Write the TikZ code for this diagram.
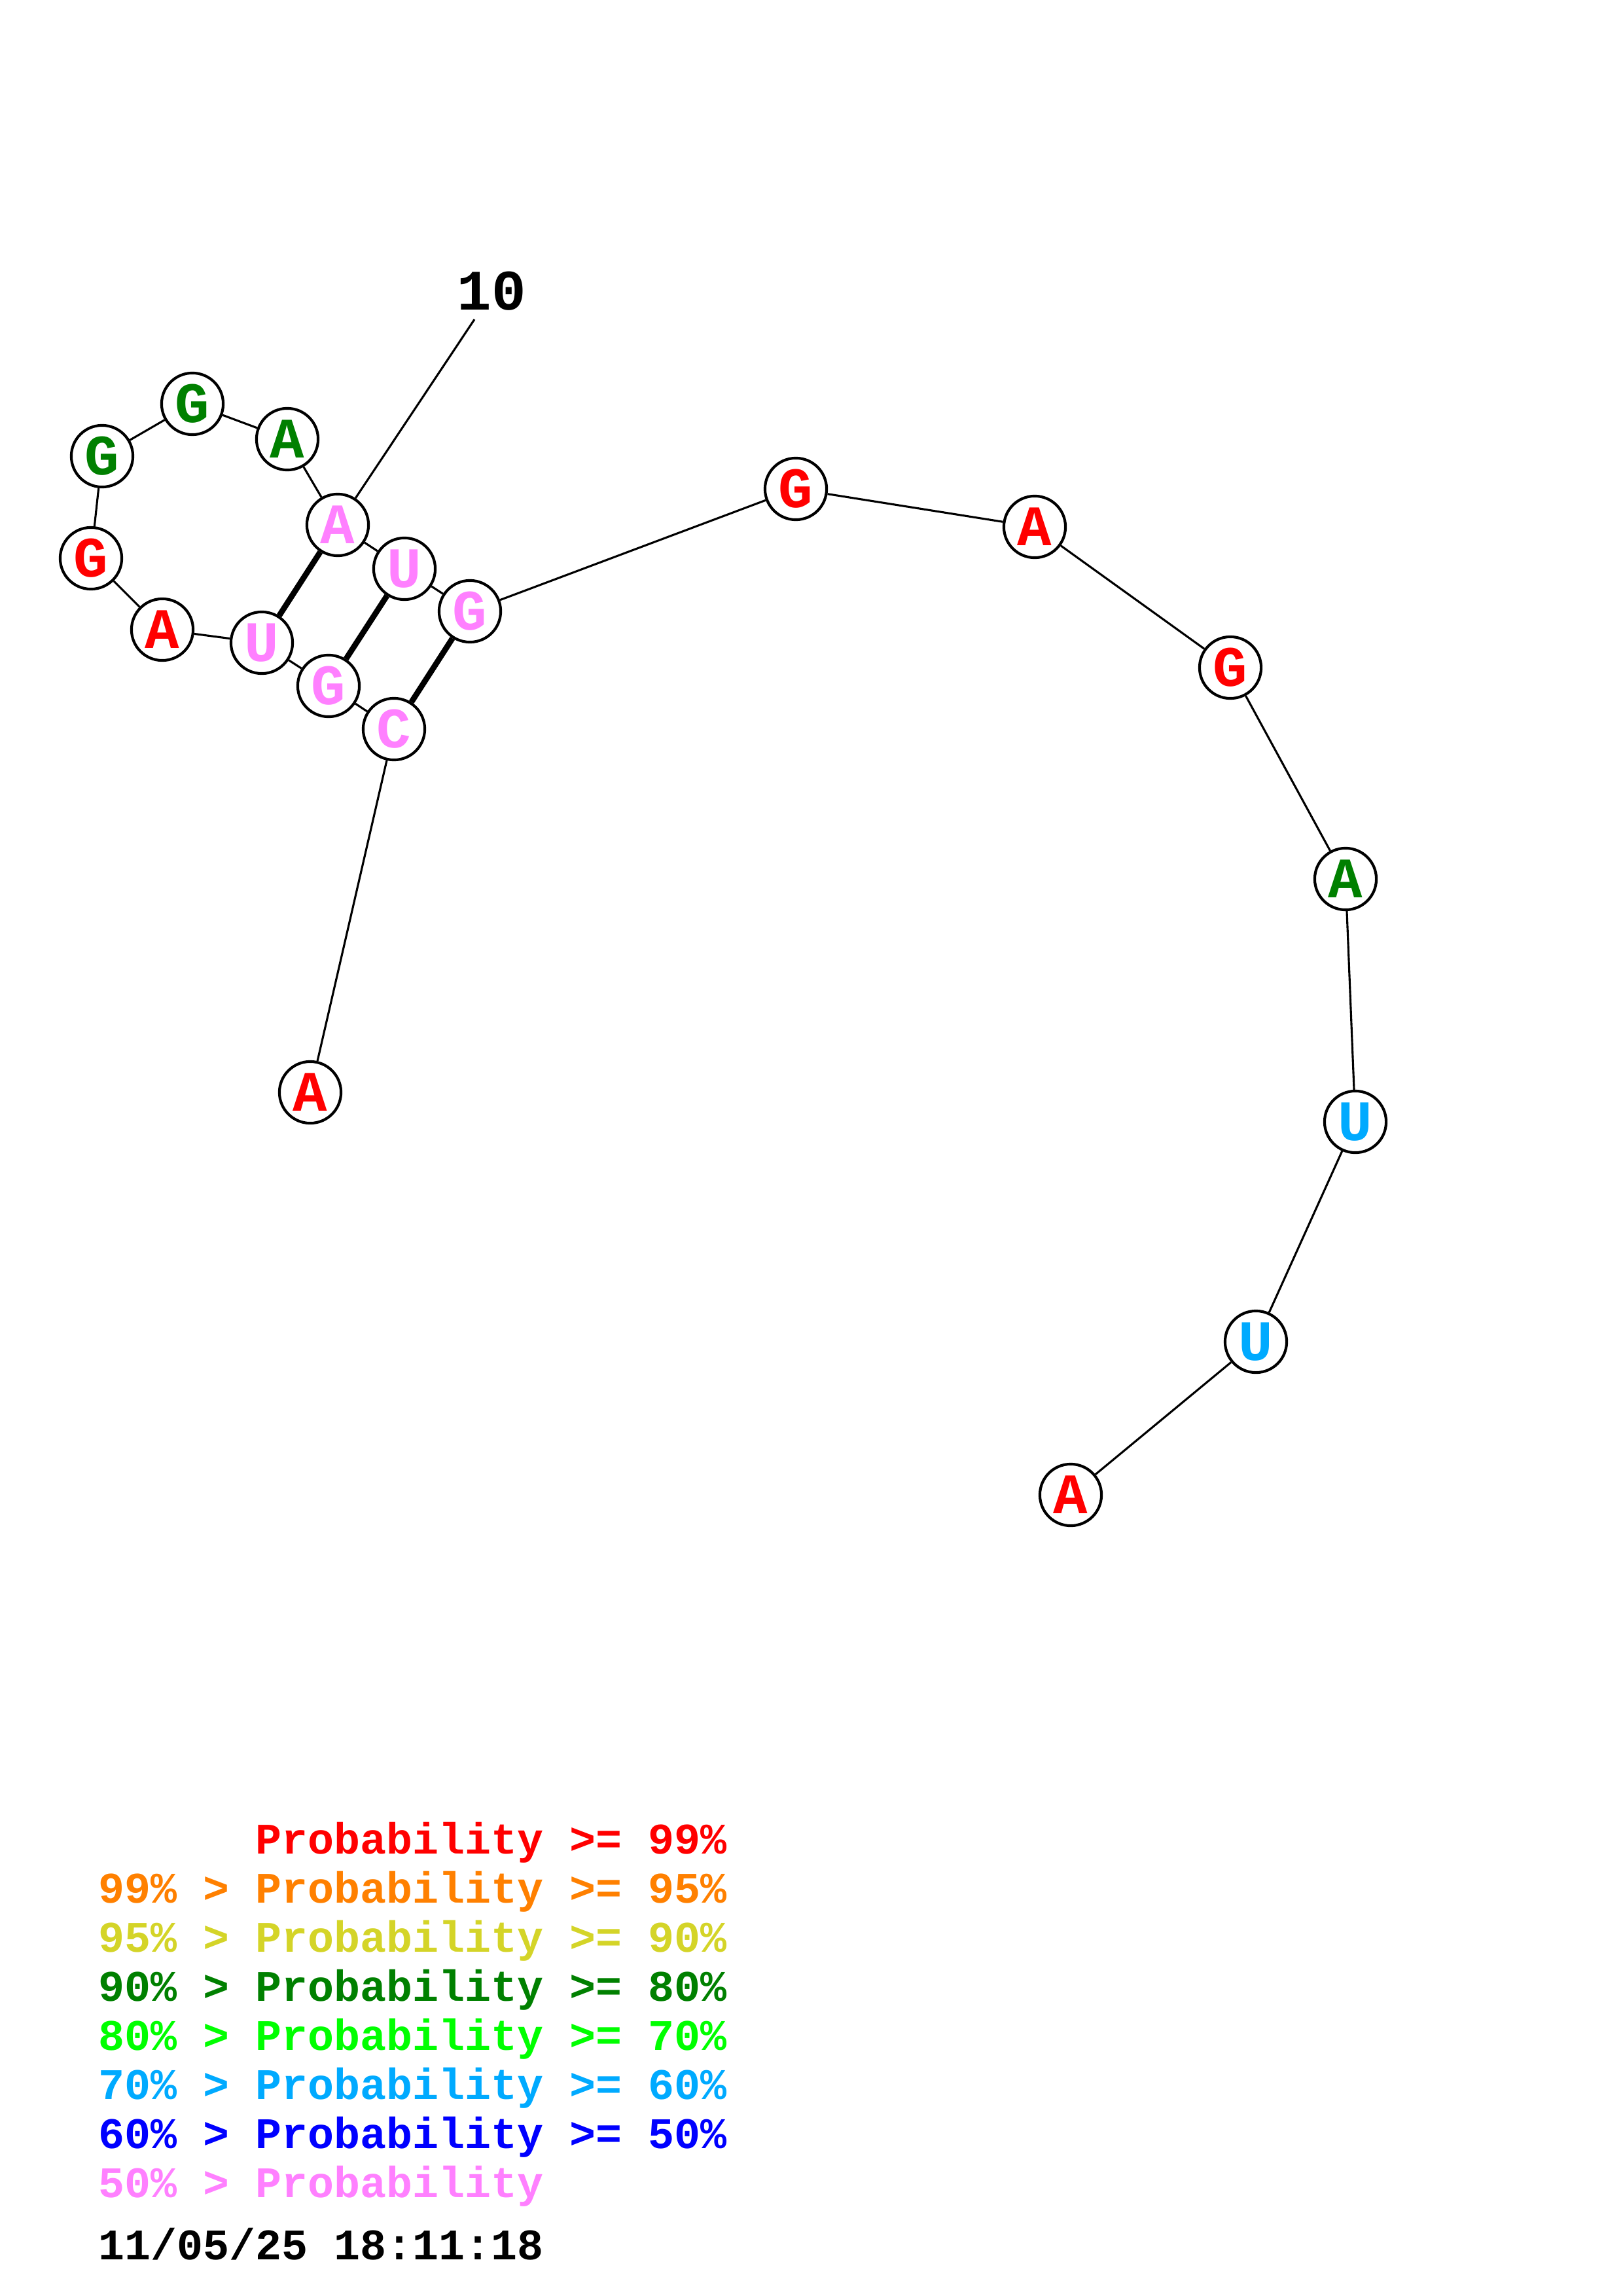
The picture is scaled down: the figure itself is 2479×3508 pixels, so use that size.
\documentclass[tikz,border=0pt]{standalone}
\usepackage{fontspec}
\setmonofont{Liberation Mono}
\definecolor{pr99}{RGB}{255,0,0}
\definecolor{pr95}{RGB}{255,128,0}
\definecolor{pr90}{RGB}{212,212,40}
\definecolor{pr80}{RGB}{0,128,0}
\definecolor{pr70}{RGB}{0,255,0}
\definecolor{pr60}{RGB}{0,170,255}
\definecolor{pr50}{RGB}{0,0,255}
\definecolor{prlow}{RGB}{255,128,255}
\begin{document}
\begin{tikzpicture}[x=0.24pt, y=-0.24pt,
  base/.style={draw, circle, fill=white, line width=1pt, minimum size=22.6pt, inner sep=0pt,
    font=\fontsize{21}{21}\selectfont\ttfamily\bfseries},
  bb/.style={line width=0.75pt},
  pair/.style={line width=2.1pt},
  leg/.style={anchor=base west, inner sep=0pt, font=\fontsize{16}{16}\selectfont\ttfamily\bfseries}]
\useasboundingbox (0,0) rectangle (2479,3508);

\node[base, text=pr99] (A1) at (474,1669) {A};
\node[base, text=prlow] (C2) at (602,1114) {C};
\node[base, text=prlow] (G3) at (502,1048) {G};
\node[base, text=prlow] (U4) at (400,982) {U};
\node[base, text=pr99] (A5) at (248,962) {A};
\node[base, text=pr99] (G6) at (139,853) {G};
\node[base, text=pr80] (G7) at (156,697) {G};
\node[base, text=pr80] (G8) at (294,617) {G};
\node[base, text=pr80] (A9) at (439,671) {A};
\node[base, text=prlow] (A10) at (516,802) {A};
\node[base, text=prlow] (U11) at (618,869) {U};
\node[base, text=prlow] (G12) at (718,934) {G};
\node[base, text=pr99] (G13) at (1216,747) {G};
\node[base, text=pr99] (A14) at (1581,805) {A};
\node[base, text=pr99] (G15) at (1880,1020) {G};
\node[base, text=pr80] (A16) at (2056,1343) {A};
\node[base, text=pr60] (U17) at (2071,1714) {U};
\node[base, text=pr60] (U18) at (1919,2050) {U};
\node[base, text=pr99] (A19) at (1636,2284) {A};

\node[font=\fontsize{21}{21}\selectfont\ttfamily\bfseries, inner sep=0pt] (L10) at (751,445) {10};
\coordinate (T10) at (725,488);

\draw[bb] (A1) -- (C2);
\draw[bb] (C2) -- (G3);
\draw[bb] (G3) -- (U4);
\draw[bb] (U4) -- (A5);
\draw[bb] (A5) -- (G6);
\draw[bb] (G6) -- (G7);
\draw[bb] (G7) -- (G8);
\draw[bb] (G8) -- (A9);
\draw[bb] (A9) -- (A10);
\draw[bb] (A10) -- (U11);
\draw[bb] (U11) -- (G12);
\draw[bb] (G12) -- (G13);
\draw[bb] (G13) -- (A14);
\draw[bb] (A14) -- (G15);
\draw[bb] (G15) -- (A16);
\draw[bb] (A16) -- (U17);
\draw[bb] (U17) -- (U18);
\draw[bb] (U18) -- (A19);
\draw[bb] (A10) -- (T10);

\draw[pair] (U4) -- (A10);
\draw[pair] (G3) -- (U11);
\draw[pair] (C2) -- (G12);

\node[leg, text=pr99] (k1) at (390,2832) {Probability >= 99\%};
\node[leg, text=pr95] (k2) at (150,2907) {99\% > Probability >= 95\%};
\node[leg, text=pr90] (k3) at (150,2982) {95\% > Probability >= 90\%};
\node[leg, text=pr80] (k4) at (150,3057) {90\% > Probability >= 80\%};
\node[leg, text=pr70] (k5) at (150,3132) {80\% > Probability >= 70\%};
\node[leg, text=pr60] (k6) at (150,3207) {70\% > Probability >= 60\%};
\node[leg, text=pr50] (k7) at (150,3282) {60\% > Probability >= 50\%};
\node[leg, text=prlow] (k8) at (150,3357) {50\% > Probability};
\node[leg, text=black] (stamp) at (150,3452) {11/05/25 18:11:18};
\end{tikzpicture}
\end{document}
